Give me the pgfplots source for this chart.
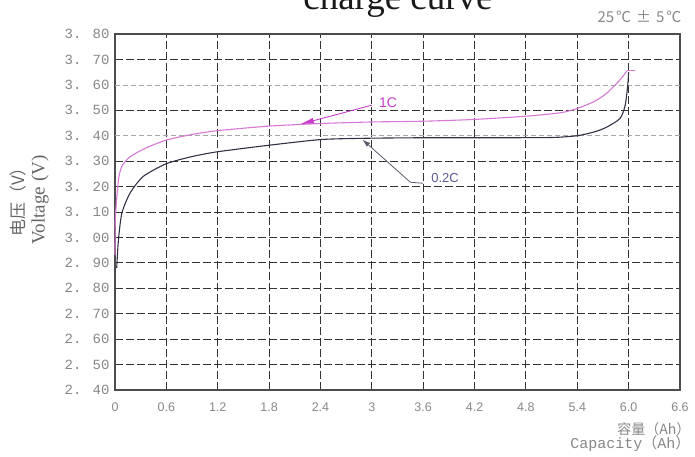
\documentclass[border=0pt]{standalone}
\usepackage{pgfplots}
\pgfplotsset{compat=1.18}
\usepackage{fontspec}
\setmainfont{Liberation Serif}
\newfontfamily\monof{Liberation Mono}
\newfontfamily\sansf{Liberation Sans}
\newfontfamily\cjk{Noto Sans CJK SC}
\usetikzlibrary{arrows.meta}
\definecolor{onec}{RGB}{214,120,214}
\definecolor{onecdark}{RGB}{200,60,200}
\definecolor{ptwoc}{RGB}{50,50,70}
\definecolor{ptwolab}{RGB}{90,90,150}
\definecolor{ticktxt}{RGB}{135,135,135}
\begin{document}
\begin{tikzpicture}[x=1pt,y=1pt]
\begin{axis}[
  at={(0,0)}, anchor=south west,
  scale only axis, width=565pt, height=356pt,
  xmin=0, xmax=6.6, ymin=2.4, ymax=3.8,
  xtick={0,0.6,1.2,1.8,2.4,3.0,3.6,4.2,4.8,5.4,6.0,6.6},
  xticklabels={0,0.6,1.2,1.8,2.4,3,3.6,4.2,4.8,5.4,6.0,6.6},
  ytick={2.4,2.5,2.6,2.7,2.8,2.9,3.0,3.1,3.2,3.3,3.5,3.7,3.8},
  yticklabels={2. 40,2. 50,2. 60,2. 70,2. 80,2. 90,3. 00,3. 10,3. 20,3. 30,3. 50,3. 70,3. 80},
  extra y ticks={3.4,3.6},
  extra y tick labels={3. 40,3. 60},
  extra y tick style={grid style={black!35, line width=0.7pt, dash pattern=on 5pt off 3pt}},
  major tick length=0pt,
  grid=major,
  grid style={black!80, line width=0.9pt, dash pattern=on 8pt off 3pt},
  axis line style={black!70, line width=1.2pt},
  xticklabel style={font=\sansf\fontsize{12.5}{14}\selectfont, text=ticktxt, yshift=-9pt},
  yticklabel style={font=\monof\fontsize{14}{16}\selectfont, text=ticktxt, xshift=-2pt},
  clip=false,
]
\addplot[ptwoc, line width=1.1pt, smooth, tension=0.4] coordinates {
(0.02,2.88) (0.04,2.99) (0.08,3.095) (0.175,3.174) (0.33,3.24) (0.6,3.29) (0.9,3.318) (1.2,3.337) (1.81,3.363) (2.41,3.385) (2.94,3.39) (3.6,3.392) (4.4,3.392) (5.1,3.393) (5.4,3.40) (5.6,3.415) (5.74,3.433) (5.9,3.468) (5.96,3.52) (5.99,3.6) (6.0,3.65)
};
\addplot[onec, line width=1.1pt, smooth, tension=0.4] coordinates {
(0,2.93) (0.005,3.08) (0.04,3.225) (0.08,3.28) (0.175,3.317) (0.35,3.35) (0.6,3.383) (0.9,3.405) (1.2,3.42) (1.81,3.438) (2.41,3.448) (3.0,3.454) (3.6,3.457) (4.2,3.464) (4.81,3.477) (5.2,3.49) (5.4,3.507) (5.6,3.535) (5.74,3.566) (5.9,3.62) (5.98,3.655)
};
\addplot[onec, line width=1.1pt] coordinates {(5.98,3.655) (6.08,3.655)};
% annotations
\draw[line width=0.9pt, -{Latex[length=14pt,width=6pt]}, onecdark] (axis cs:3.0,3.52) -- (axis cs:2.16,3.445);
\node[text=onecdark, font=\sansf\fontsize{14}{16}\selectfont] at (axis cs:3.19,3.528) {1C};
\draw[ptwoc!80, line width=0.8pt] (axis cs:3.6,3.213) -- (axis cs:3.45,3.217);
\draw[ptwoc!80, line width=0.8pt, -{Latex[length=8pt,width=5pt]}] (axis cs:3.45,3.217) -- (axis cs:2.89,3.385);
\node[text=ptwolab, font=\sansf\fontsize{13}{15}\selectfont] at (axis cs:3.855,3.233) {0.2C};
\end{axis}
% title and texts (pixel -> (px-115, 390-py))
\node[anchor=base, font=\fontsize{37}{40}\selectfont, text=black!90] at (283,380) {charge curve};
\node[anchor=base east, font=\cjk\fontsize{15}{17}\selectfont, text=ticktxt] at (570,367) {25\hspace{2pt}℃\hspace{5pt}±\hspace{5pt}5\hspace{2pt}℃};
\node[rotate=90, font=\cjk\fontsize{17}{19}\selectfont, text=black!60] at (-97,192) {电压（V）};
\node[rotate=90, font=\fontsize{19}{21}\selectfont, text=black!60] at (-75,190) {Voltage (V)};
\node[anchor=east, font=\cjk\fontsize{14}{16}\selectfont, text=ticktxt] at (579,-39) {容量（Ah）};
\node[anchor=east, font=\monof\fontsize{15}{17}\selectfont, text=ticktxt] at (579,-54) {Capacity{\cjk（}Ah{\cjk）}};
\pgfresetboundingbox
\useasboundingbox (-115,-67) rectangle (580,390);
\end{tikzpicture}
\end{document}
